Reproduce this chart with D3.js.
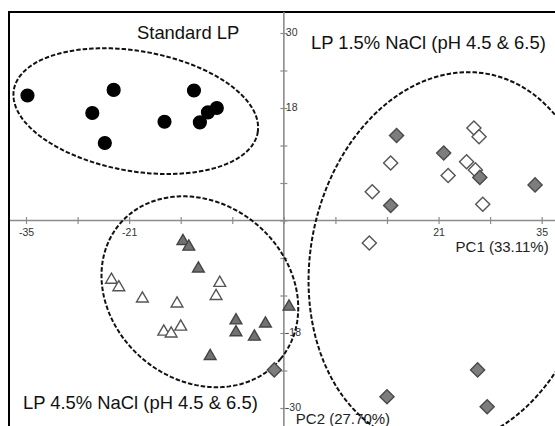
<!DOCTYPE html>
<html>
<head>
<meta charset="utf-8">
<script src="https://cdn.jsdelivr.net/npm/d3@7"></script>
<style>
  html, body { margin: 0; padding: 0; background: #fff; }
  svg { display: block; font-family: "Liberation Sans", Arial, sans-serif; }
</style>
</head>
<body>
<svg id="chart" width="555" height="426"></svg>
<script>
// PCA scores (PC1, PC2) per sample group
const standardLP = [[-34.8,20.0],[-23.1,20.9],[-26.0,17.2],[-24.3,12.4],[-16.2,15.8],[-12.2,20.8],[-11.4,15.7],[-10.3,17.3],[-9.1,18.0]];
const nacl15Dark = [[15.3,13.6],[21.7,10.8],[26.6,6.9],[34.1,5.7],[14.5,2.4],[-1.3,-23.9],[14.0,-28.2],[26.3,-23.9],[27.6,-29.8]];
const nacl15Open = [[25.8,14.8],[26.5,13.4],[14.5,9.2],[24.8,9.4],[26.0,8.1],[22.3,7.2],[12.0,4.6],[27.0,2.6],[11.6,-3.6]];
const nacl45Dark = [[-13.7,-3.3],[-12.9,-4.2],[-11.6,-7.7],[-6.5,-16.0],[-6.5,-17.9],[-2.5,-16.5],[-4.0,-18.6],[-10.0,-21.7],[0.7,-13.8]];
const nacl45Open = [[-23.4,-9.5],[-22.4,-10.7],[-19.2,-12.5],[-14.5,-13.3],[-16.3,-17.8],[-15.3,-18.1],[-14.0,-17.0],[-8.7,-10.0],[-9.2,-12.1]];

// Group ellipses: centre, semi-axes (score units) and tilt in degrees
const ellipseCx = [-20.1, -11.4, 22.8];
const ellipseCy = [17.5, -11.4, -6.2];
const ellipseRx = [16.8, 14.25, 19.15];
const ellipseRy = [9.6, 14.1, 30.2];
const ellipseTilt = [10, 40, 11.5];

const groupLabels = ["Standard LP", "LP 1.5% NaCl (pH 4.5 & 6.5)", "LP 4.5% NaCl (pH 4.5 & 6.5)"];
const xTicks = [-35, -28, -21, -14, -7, 0, 7, 14, 21, 28, 35];
const xTickLabels = [-35, -21, 21, 35];
const yTicks = [-30, -24, -18, -12, -6, 0, 6, 12, 18, 24, 30];
const yTickLabels = [-30, -18, 18, 30];
const axisTitles = ["PC1 (33.11%)", "PC2 (27.70%)"];

const W = 555, H = 426;
const svg = d3.select("#chart");

const x = d3.scaleLinear().domain([-35, 35]).range([26, 541.7]);
const y = d3.scaleLinear().domain([30, -30]).range([33, 408]);

// frame
svg.append("path")
  .attr("d", `M9,${H + 2}V12H${W + 2}`)
  .attr("fill", "none").attr("stroke", "#000").attr("stroke-width", 2);

const axisColor = "#8c8c8c";

// horizontal axis through PC2 = 0
const gx = svg.append("g").attr("transform", `translate(0,${y(0)})`)
  .call(d3.axisBottom(x).tickValues(xTicks).tickSize(3)
    .tickFormat(d => xTickLabels.includes(d) ? d : ""));
gx.select(".domain").remove();
gx.insert("line", ":first-child").attr("x1", 10).attr("x2", W).attr("stroke", axisColor).attr("stroke-width", 1.6);
gx.selectAll(".tick line").attr("y1", -3.5).attr("y2", 3.5).attr("stroke", axisColor).attr("stroke-width", 1.2);
gx.selectAll(".tick text").attr("y", 8).attr("font-size", 10.5).attr("fill", "#333")
  .attr("font-family", "Liberation Sans, Arial, sans-serif");

// vertical axis through PC1 = 0
const gy = svg.append("g").attr("transform", `translate(${x(0)},0)`)
  .call(d3.axisRight(y).tickValues(yTicks).tickSize(3)
    .tickFormat(d => yTickLabels.includes(d) ? d : ""));
gy.select(".domain").remove();
gy.insert("line", ":first-child").attr("y1", 12).attr("y2", H).attr("stroke", axisColor).attr("stroke-width", 1.6);
gy.selectAll(".tick line").attr("x1", -3.5).attr("x2", 3.5).attr("stroke", axisColor).attr("stroke-width", 1.2);
gy.selectAll(".tick text").attr("x", 2).attr("dy", "0.25em").attr("font-size", 10.5).attr("fill", "#333")
  .attr("font-family", "Liberation Sans, Arial, sans-serif");

// axis titles
svg.append("text").attr("x", x(35) + 7).attr("y", y(0) + 31).attr("text-anchor", "end")
  .attr("font-size", 15).attr("fill", "#222").text(axisTitles[0]);
svg.append("text").attr("x", x(0) + 12).attr("y", y(-30) + 15.5)
  .attr("font-size", 15).attr("fill", "#222").text(axisTitles[1]);

// group labels
svg.append("text").attr("x", 137).attr("y", 39).attr("font-size", 18.4).attr("fill", "#111").text(groupLabels[0]);
svg.append("text").attr("x", 311).attr("y", 49).attr("font-size", 18.4).attr("fill", "#111").text(groupLabels[1]);
svg.append("text").attr("x", 23).attr("y", 409).attr("font-size", 18.4).attr("fill", "#111").text(groupLabels[2]);

// dashed group ellipses
const line = d3.line().curve(d3.curveLinearClosed);
const steps = d3.range(0, 2 * Math.PI, Math.PI / 120);
ellipseCx.forEach((cx, i) => {
  const pts = steps.map(t => [x(cx + ellipseRx[i] * Math.cos(t)), y(ellipseCy[i] + ellipseRy[i] * Math.sin(t))]);
  svg.append("path")
    .attr("d", line(pts))
    .attr("transform", `rotate(${ellipseTilt[i]},${x(cx)},${y(ellipseCy[i])})`)
    .attr("fill", "none").attr("stroke", "#111").attr("stroke-width", 2)
    .attr("stroke-dasharray", "4.5,2");
});

// markers
function drawSeries(data, type, size, fill, stroke, rot) {
  const sym = d3.symbol().type(type).size(size);
  svg.append("g").selectAll("path").data(data).join("path")
    .attr("d", sym)
    .attr("transform", d => `translate(${x(d[0])},${y(d[1])}) rotate(${rot})`)
    .attr("fill", fill).attr("stroke", stroke).attr("stroke-width", 1.4);
}
drawSeries(standardLP, d3.symbolCircle, 128, "#000", "#000", 0);
drawSeries(nacl15Open, d3.symbolSquare, 100, "#fff", "#555", 45);
drawSeries(nacl15Dark, d3.symbolSquare, 100, "#7d7d7d", "#4a4a4a", 45);
drawSeries(nacl45Open, d3.symbolTriangle, 60, "#fff", "#555", 0);
drawSeries(nacl45Dark, d3.symbolTriangle, 60, "#727272", "#444", 0);
</script>
</body>
</html>
